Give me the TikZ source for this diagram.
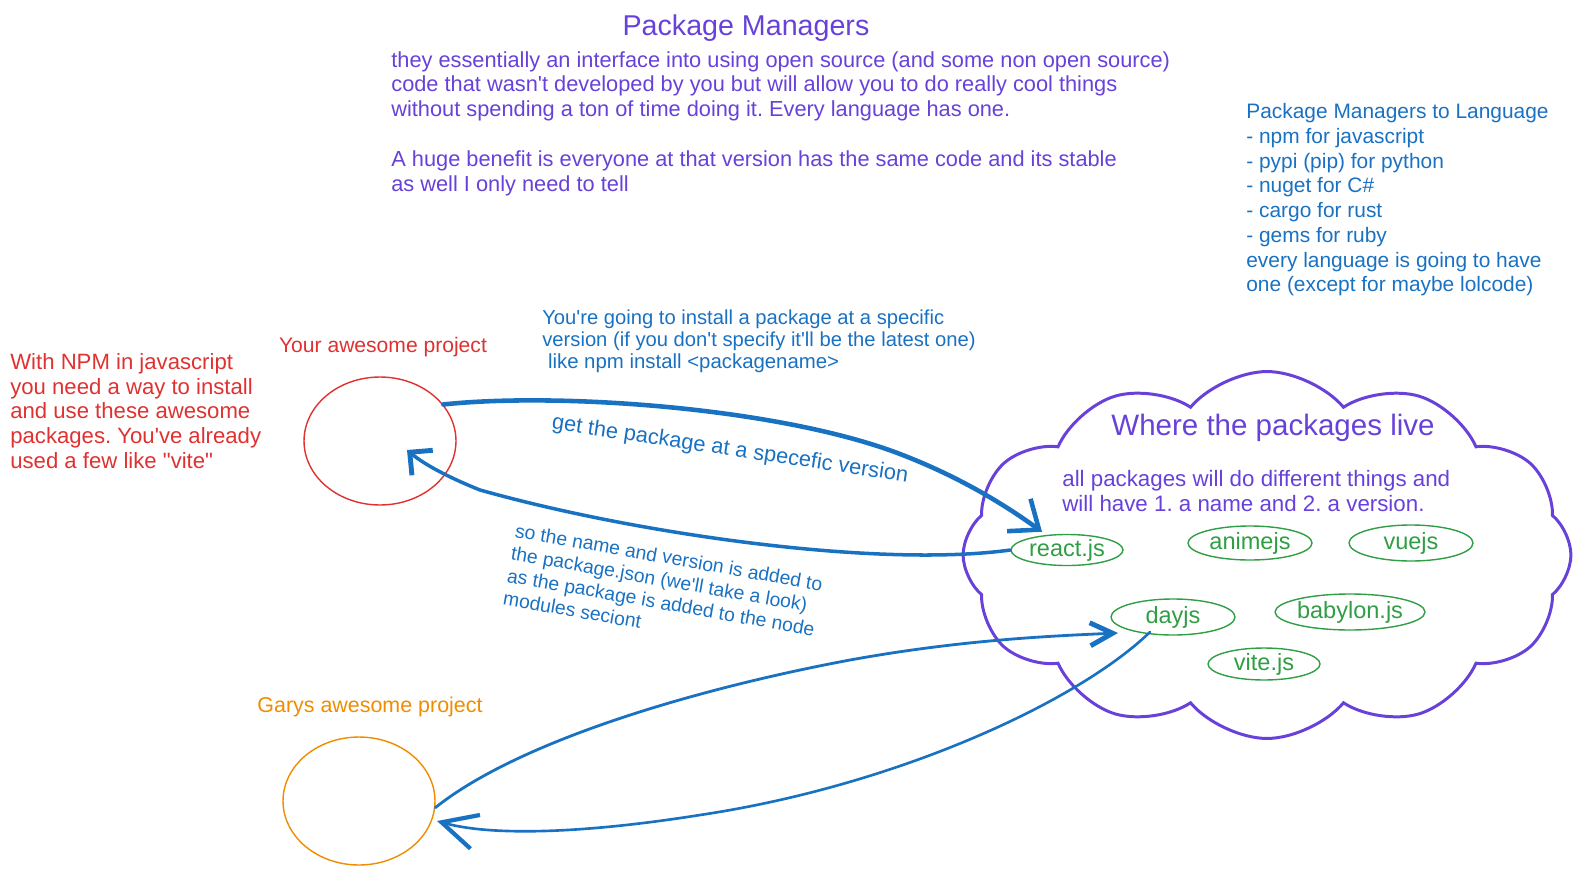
\documentclass[tikz,border=0pt]{standalone}
\usepackage{fontspec}
\setmainfont{Liberation Sans}[Ligatures=TeXOff]
\usepackage{tikz}
\usepackage{xcolor}
\usetikzlibrary{positioning,arrows.meta,shapes.geometric,shapes.symbols,calc}

\definecolor{pmviolet}{HTML}{6741D9}
\definecolor{pmblue}{HTML}{1971C2}
\definecolor{pmred}{HTML}{E03131}
\definecolor{pmorange}{HTML}{F08C00}
\definecolor{pmgreen}{HTML}{2F9E44}
\newcommand{\fs}[2]{\fontsize{#1}{#2}\selectfont}
\frenchspacing

\begin{document}
\begin{tikzpicture}[
          x=0.02cm, y=-0.02cm,
          note/.style={inner sep=0pt, align=left, font=\fs{12.4pt}{14.1pt}},
          proj/.style={draw, ellipse, line width=0.8pt, minimum width=3.04cm, minimum height=2.56cm},
          pkg/.style={draw=pmgreen, ellipse, line width=0.8pt, text=pmgreen, font=\fs{13.4pt}{15pt}, inner sep=0pt},
          arr/.style={pmblue, line cap=round, line join=round}
      ]
        \useasboundingbox (0,0) rectangle (1581,875);

        % headline and notes
        \node[note, text=pmviolet, font=\fs{16.3pt}{18pt}] (title) at (746,28) {Package Managers};
        \node[note, text=pmviolet, anchor=north west] (intro) at (391,51)
          {they essentially an interface into using open source (and some non open source)\\
           code that wasn't developed by you but will allow you to do really cool things\\
           without spending a ton of time doing it. Every language has one.\\[14.1pt]
           A huge benefit is everyone at that version has the same code and its stable\\
           as well I only need to tell};
        \node[note, text=pmblue, anchor=north west, font=\fs{11.9pt}{14.1pt}] (langs) at (1246,103)
          {Package Managers to Language\\
           - npm for javascript\\
           - pypi (pip) for python\\
           - nuget for C\#\\
           - cargo for rust\\
           - gems for ruby\\
           every language is going to have\\
           one (except for maybe lolcode)};
        \node[note, text=pmred, anchor=north west, font=\fs{12.6pt}{14.1pt}] (npmnote) at (10,353)
          {With NPM in javascript\\
           you need a way to install\\
           and use these awesome\\
           packages. You've already\\
           used a few like "vite"};

        % projects
        \node[note, text=pmred, font=\fs{12pt}{14pt}] (yourslbl) at (383,347) {Your awesome project};
        \node[proj, draw=pmred] (yours) at (380,441) {};
        \node[note, text=pmorange, font=\fs{12.2pt}{14pt}] (garyslbl) at (370,707) {Garys awesome project};
        \node[proj, draw=pmorange] (garys) at (359,801) {};

        % registry cloud
        \node[cloud, cloud ignores aspect, cloud puffs=12, cloud puff arc=100, draw=pmviolet, line width=1.7pt,
              minimum width=12.16cm, minimum height=7.34cm] (repo) at (1267,555) {};
        \node[note, text=pmviolet, font=\fs{16.8pt}{18pt}] (repotitle) at (1273,428) {Where the packages live};
        \node[note, text=pmviolet, anchor=north west, font=\fs{12.7pt}{14.1pt}] (repotext) at (1062,470)
          {all packages will do different things and\\
           will have 1. a name and 2. a version.};
        \node[pkg, minimum width=2.24cm, minimum height=0.6cm] (react) at (1067,550) {react.js};
        \node[pkg, minimum width=2.48cm, minimum height=0.68cm] (anime) at (1250,543) {animejs};
        \node[pkg, minimum width=2.48cm, minimum height=0.72cm] (vue) at (1411,543) {vuejs};
        \node[pkg, minimum width=2.48cm, minimum height=0.72cm] (dayjs) at (1173,617) {dayjs};
        \node[pkg, minimum width=2.44cm, minimum height=0.72cm] (babylon) at (1350,612) {babylon.js};
        \node[pkg, minimum width=2.24cm, minimum height=0.64cm] (vite) at (1264,664) {vite.js};

        % install / save
        \node[note, text=pmblue, anchor=north west, font=\fs{11.5pt}{12.5pt}] (installnote) at (542,310)
          {You're going to install a package at a specific\\
           version (if you don't specify it'll be the latest one)\\
           {\fs{11.6pt}{12.5pt}\ like npm install <packagename>}};
        \node[note, text=pmblue, font=\fs{12.4pt}{14pt}, rotate=-8.5] (getlbl) at (730,450)
          {get the package at a specefic version};
        \node[note, text=pmblue, font=\fs{11pt}{13pt}, rotate=-10] (savelbl) at (663,591)
          {so the name and version is added to\\
           the package.json (we'll take a look)\\
           as the package is added to the node\\
           modules seciont};

        \draw[arr, line width=2.6pt, -{Straight Barb[length=5mm, width=8mm, line width=2.6pt]}]
          (yours.30) .. controls (560,392) and (780,408) .. (900,454)
          .. controls (960,477) and (1005,505) .. ([shift={(-25,-2)}]react.north);
        \draw[arr, line width=2pt, -{Straight Barb[length=3.3mm, width=6.5mm, line width=2.8pt]}]
          (react.west) .. controls (880,568) and (640,535) .. (480,490)
          .. controls (450,478) and (425,465) .. ([shift={(27,9)}]yours.center);
        \draw[arr, line width=1.6pt, -{Straight Barb[length=4.5mm, width=4.6mm, line width=2.8pt]}]
          (garys.-5) .. controls (520,740) and (700,688) .. (850,660)
          .. controls (960,640) and (1050,636) .. ([shift={(-55,16)}]dayjs.center);
        \draw[arr, line width=1.5pt, -{Straight Barb[length=7mm, width=7mm, line width=2.4pt]}]
          ([shift={(-23,15)}]dayjs.center) .. controls (1080,700) and (900,785) .. (700,815)
          .. controls (580,834) and (490,836) .. ([shift={(78,20)}]garys.center);
      \end{tikzpicture}
\end{document}
